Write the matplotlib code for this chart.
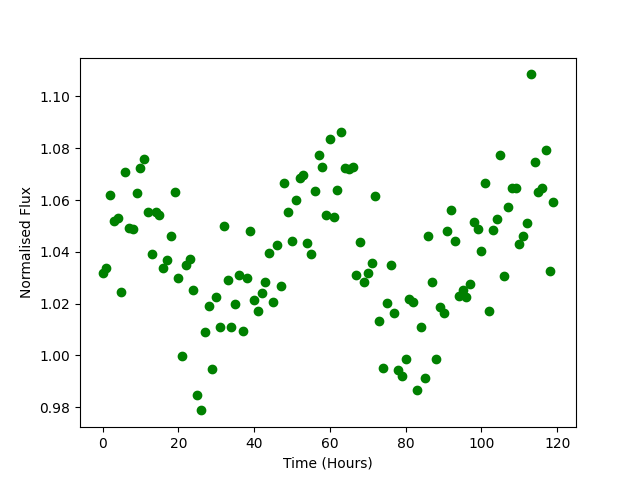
import numpy as np
from matplotlib import pyplot as plt

# Hourly time stamps and normalised flux
hours = np.arange(120)
flux = [
    1.0317, 1.0336, 1.0618, 1.0520, 1.0530, 1.0244, 1.0707, 1.0494, 1.0487, 1.0626,
    1.0722, 1.0760, 1.0552, 1.0390, 1.0552, 1.0541, 1.0336, 1.0367, 1.0460, 1.0630,
    1.0300, 0.9997, 1.0348, 1.0371, 1.0251, 0.9846, 0.9788, 1.0090, 1.0190, 0.9947,
    1.0224, 1.0109, 1.0498, 1.0290, 1.0109, 1.0197, 1.0309, 1.0093, 1.0300, 1.0479,
    1.0213, 1.0170, 1.0240, 1.0282, 1.0394, 1.0205, 1.0425, 1.0267, 1.0664, 1.0552,
    1.0440, 1.0599, 1.0684, 1.0695, 1.0433, 1.0390, 1.0633, 1.0772, 1.0726, 1.0541,
    1.0834, 1.0533, 1.0637, 1.0861, 1.0722, 1.0718, 1.0726, 1.0309, 1.0437, 1.0282,
    1.0317, 1.0356, 1.0614, 1.0132, 0.9950, 1.0201, 1.0348, 1.0163, 0.9943, 0.9920,
    0.9985, 1.0217, 1.0205, 0.9866, 1.0109, 0.9912, 1.0460, 1.0282, 0.9985, 1.0186,
    1.0163, 1.0479, 1.0560, 1.0440, 1.0228, 1.0251, 1.0224, 1.0275, 1.0514, 1.0487,
    1.0402, 1.0664, 1.0170, 1.0483, 1.0525, 1.0772, 1.0305, 1.0572, 1.0645, 1.0645,
    1.0429, 1.0460, 1.0510, 1.1085, 1.0745, 1.0630, 1.0645, 1.0792, 1.0325, 1.0591,
]

figure, ax = plt.subplots(figsize=(6.4, 4.8), dpi=100)

ax.plot(hours, flux, 'o', color='green')
ax.set_xlabel('Time (Hours)')
ax.set_ylabel('Normalised Flux')

plt.savefig('out.png')
